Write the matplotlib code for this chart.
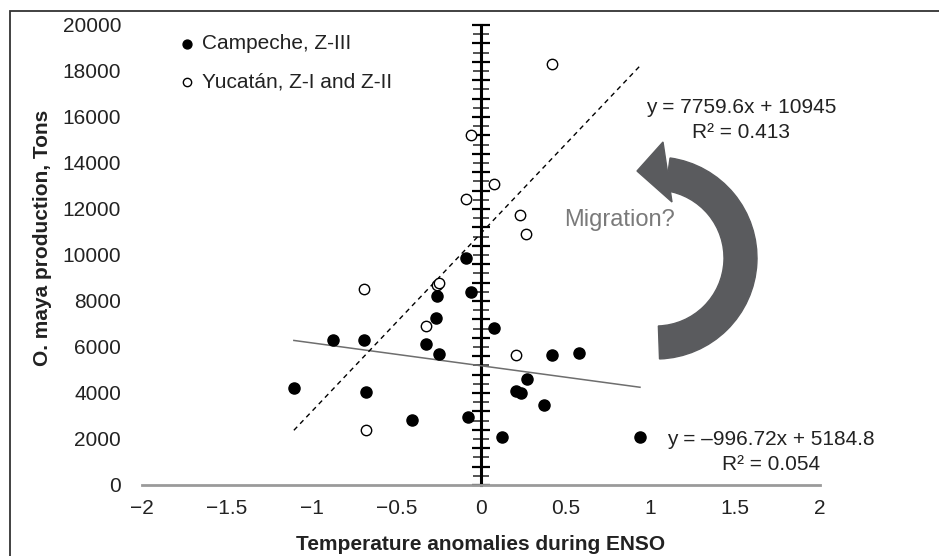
import numpy as np
import matplotlib
matplotlib.use("Agg")
import matplotlib.pyplot as plt
from matplotlib.patches import Wedge, Polygon, Rectangle
from matplotlib.ticker import MultipleLocator

plt.rcParams['font.family'] = ['Liberation Sans', 'DejaVu Sans']

# Campeche, Z-III (filled)
camp_x = [-1.104, -0.871, -0.693, -0.681, -0.407, -0.086, -0.261, -0.058, -0.265,
          -0.327, -0.247, -0.074, 0.074, 0.121, 0.417, 0.577, 0.269, 0.208, 0.234,
          0.372, 0.938]
camp_y = [4230, 6291, 6291, 4030, 2840, 9856, 8230, 8377, 7275,
          6145, 5710, 2942, 6812, 2072, 5667, 5754, 4609, 4101, 3986,
          3478, 2072]

# Yucatan, Z-I and Z-II (open)
yuc_x = [-0.693, -0.681, -0.327, -0.261, -0.246, -0.086, 0.074, 0.232, 0.267,
         0.208, -0.058, 0.419]
yuc_y = [8507, 2406, 6928, 8696, 8768, 12435, 13087, 11725, 10913,
         5667, 15217, 18290]

# trendline coefficients (slope, intercept) from the chart
camp_fit = [-996.72, 5184.8]
yuc_fit = [7759.6, 10945]

xticks = [-2, -1.5, -1, -0.5, 0, 0.5, 1, 1.5, 2]
xticklabels = ['\u22122', '\u22121.5', '\u22121', '\u22120.5', '0', '0.5', '1', '1.5', '2']
yticks = list(range(0, 20001, 2000))

fig = plt.figure(figsize=(9.39, 5.56), dpi=100)
ax = fig.add_axes([142/939, 1 - 485/556, 678/939, 460/556])
ax.set_xlim(-2, 2)
ax.set_ylim(0, 20000)

# trend lines over the whole data range
xl = np.array([min(camp_x + yuc_x), max(camp_x + yuc_x)])
ax.plot(xl, np.polyval(camp_fit, xl), color='#6e6e6e', lw=1.1, zorder=2)
ax.plot(xl, np.polyval(yuc_fit, xl), color='black', lw=1.0, ls=(0, (3.5, 3)), zorder=2)

ax.scatter(camp_x, camp_y, s=64, color='black', zorder=4, label='Campeche, Z-III')
ax.scatter(yuc_x, yuc_y, s=56, facecolor='white', edgecolor='black', lw=1.0,
           zorder=4, label='Yucatán, Z-I and Z-II')

ax.set_xticks(xticks)
ax.set_xticklabels(xticklabels)
ax.set_yticks(yticks)
ax.tick_params(axis='both', length=0, labelsize=15, colors='#222222')
ax.tick_params(axis='y', pad=15)
ax.tick_params(axis='x', pad=10)
for s in ['left', 'top', 'right']:
    ax.spines[s].set_visible(False)
ax.spines['bottom'].set_color('#9a9a9a')
ax.spines['bottom'].set_linewidth(2)

ax.set_xlabel('Temperature anomalies during ENSO', fontsize=15, fontweight='bold',
              color='#222222', labelpad=12)
ax.set_ylabel('O. maya production, Tons', fontsize=15, fontweight='bold',
              color='#222222')
ax.yaxis.set_label_coords(-0.133, 0.537)

# central axis at x = 0 with cross ticks
sec = ax.secondary_yaxis(0.5)
sec.spines['right'].set_linewidth(2.2)
sec.spines['left'].set_linewidth(2.2)
sec.yaxis.set_major_locator(MultipleLocator(800))
sec.yaxis.set_minor_locator(MultipleLocator(400))
sec.tick_params(which='major', direction='inout', length=13, width=1.6,
                labelleft=False, labelright=False, color='black')
sec.tick_params(which='minor', direction='inout', length=11, width=1.3,
                color='#444444')

leg = ax.legend(loc='upper left', bbox_to_anchor=(181/939, 1 - 34/556),
                bbox_transform=fig.transFigure, frameon=False, fontsize=15,
                markerscale=0.8, handlelength=0.6, handletextpad=0.4,
                labelspacing=0.95, borderpad=0, borderaxespad=0)
for t in leg.get_texts():
    t.set_color('#222222')

ax.annotate('y = 7759.6x + 10945\nR\u00b2 = 0.413', xy=(741/939, 1 - 120/556),
            xycoords='figure fraction', fontsize=15, ha='center', va='center',
            color='#222222', linespacing=1.45)
ax.annotate('y = \u2013996.72x + 5184.8\nR\u00b2 = 0.054', xy=(771/939, 1 - 452/556),
            xycoords='figure fraction', fontsize=15, ha='center', va='center',
            color='#222222', linespacing=1.45)
ax.annotate('Migration?', xy=(619/939, 1 - 220/556), xycoords='figure fraction',
            fontsize=17, ha='center', va='center', color='#7a7a7a')

# curved arrow, drawn in figure inches
cx, cy = 6.56, 2.98
arrow_col = '#5a5b5e'
fig.patches.append(Wedge((cx, cy), 1.01, -88, 82, width=0.33, color=arrow_col,
                         transform=fig.dpi_scale_trans, figure=fig))
head = np.array([[-0.19, 0.87], [0.07, 1.16], [0.16, 0.56]]) + [cx, cy]
fig.patches.append(Polygon(head, closed=True, color=arrow_col,
                           transform=fig.dpi_scale_trans, figure=fig))

# outer frame
fig.patches.append(Rectangle((10/939, -0.1), 2, 1.1 - 11/556, fill=False,
                             ec='#333333', lw=1.3, transform=fig.transFigure,
                             figure=fig))

fig.savefig('out.png', dpi=100)
